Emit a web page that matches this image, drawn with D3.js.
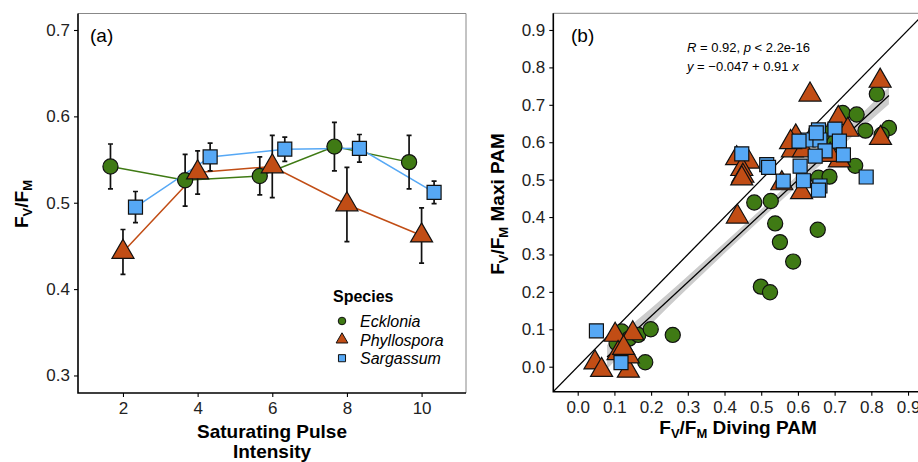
<!DOCTYPE html>
<html>
<head>
<meta charset="utf-8">
<script src="https://cdn.jsdelivr.net/npm/d3@7"></script>
<style>
body { margin: 0; background: #fff; }
svg { display: block; font-family: "Liberation Sans", Arial, sans-serif; }
</style>
</head>
<body>
<svg width="918" height="462"></svg>
<script>
// ---- data ----
var species = ["Ecklonia", "Phyllospora", "Sargassum"];
var colors = ["#3f7a14", "#c14d15", "#56a8f5"];
var pulse = [2, 4, 6, 8, 10];

// panel (a): mean and standard error per pulse intensity
var eckMean = [0.542, 0.526, 0.531, 0.565, 0.547];
var eckSe   = [0.026, 0.030, 0.022, 0.028, 0.031];
var phyMean = [0.443, 0.535, 0.542, 0.498, 0.462];
var phySe   = [0.026, 0.025, 0.036, 0.043, 0.032];
var sarMean = [0.495, 0.553, 0.562, 0.563, 0.512];
var sarSe   = [0.018, 0.016, 0.014, 0.016, 0.013];

// panel (b): diving PAM (x) vs maxi PAM (y)
var eckPts = [[0.120,0.094],[0.106,0.063],[0.140,0.075],[0.165,0.085],[0.199,0.100],[0.259,0.085],[0.184,0.012],
  [0.481,0.439],[0.526,0.443],[0.538,0.383],[0.551,0.333],[0.587,0.281],[0.499,0.214],[0.524,0.199],[0.654,0.366],
  [0.656,0.505],[0.686,0.508],[0.756,0.537],[0.722,0.678],[0.760,0.674],[0.784,0.631],[0.848,0.638],[0.828,0.620],
  [0.815,0.729],[0.650,0.630],[0.687,0.625],[0.700,0.600]];
var phyPts = [[0.047,0.011],[0.065,-0.009],[0.102,0.085],[0.150,0.089],[0.138,-0.011],[0.110,0.036],[0.138,0.027],[0.125,0.050],
  [0.435,0.401],[0.433,0.557],[0.465,0.548],[0.447,0.528],[0.450,0.510],[0.447,0.503],
  [0.633,0.727],[0.824,0.764],[0.825,0.611],[0.710,0.664],[0.736,0.633],[0.594,0.615],[0.585,0.578],[0.615,0.578],
  [0.556,0.490],[0.610,0.466],[0.713,0.551],[0.688,0.566],[0.580,0.600]];
var sarPts = [[0.051,0.096],[0.118,0.011],[0.447,0.569],[0.515,0.540],[0.520,0.533],[0.560,0.496],[0.606,0.536],
  [0.615,0.497],[0.660,0.483],[0.656,0.472],[0.786,0.507],[0.656,0.633],[0.701,0.635],[0.628,0.606],[0.660,0.606],
  [0.713,0.603],[0.674,0.577],[0.647,0.563],[0.724,0.566],[0.603,0.603],[0.650,0.625]];

// fitted line from the annotation, and its confidence band half-width
var fitIntercept = -0.047, fitSlope = 0.91;
var bandX    = [0.080, 0.200, 0.400, 0.600, 0.848];
var bandHalf = [0.032, 0.021, 0.014, 0.014, 0.023];

var ticksA = [0.3, 0.4, 0.5, 0.6, 0.7];
var ticksB = [0, 0.1, 0.2, 0.3, 0.4, 0.5, 0.6, 0.7, 0.8, 0.9];

var svg = d3.select("svg");
var shapes = [d3.symbolCircle, d3.symbolTriangle, d3.symbolSquare];
var sizes = [180, 210, 196];

function sym(i, s) {
    return d3.symbol().type(shapes[i]).size(s || sizes[i])();
}

function styleAxis(g) {
    g.select(".domain").remove();
    g.selectAll(".tick line").attr("stroke", "#000").attr("stroke-width", 1.1);
    g.selectAll(".tick text").attr("fill", "#222").style("font-size", "17px");
}

// F_V/F_M with subscripts
function fvfm(t, rest) {
    t.append("tspan").text("F");
    t.append("tspan").attr("dy", 4).style("font-size", "13px").text("V");
    t.append("tspan").attr("dy", -4).text("/F");
    t.append("tspan").attr("dy", 4).style("font-size", "13px").text("M");
    if (rest) t.append("tspan").attr("dy", -4).text(rest);
}

// =============== panel (a) ===============
var xa = d3.scaleLinear().domain([0.795, 11.19]).range([78, 466]);
var ya = d3.scaleLinear().domain([0.2797, 0.7191]).range([393, 13.5]);
var dodge = [-0.335, 0, 0.335];

var groups = [
    { i: 0, mean: eckMean, se: eckSe },
    { i: 1, mean: phyMean, se: phySe },
    { i: 2, mean: sarMean, se: sarSe }
];

var pa = svg.append("g");

pa.append("g").attr("transform", "translate(0,393)")
    .call(d3.axisBottom(xa).tickValues(pulse).tickSize(4).tickPadding(5))
    .call(styleAxis);
pa.append("g").attr("transform", "translate(78,0)")
    .call(d3.axisLeft(ya).tickValues(ticksA).tickFormat(d3.format(".1f")).tickSize(4).tickPadding(4))
    .call(styleAxis);

// frame
pa.append("path").attr("d", "M78,13.5H466V393").attr("fill", "none").attr("stroke", "#888").attr("stroke-width", 1);
pa.append("path").attr("d", "M78,13.5V393H466").attr("fill", "none").attr("stroke", "#000").attr("stroke-width", 1.6);

// connecting lines
groups.forEach(function(g) {
    var line = d3.line()
        .x(function(d, k) { return xa(pulse[k] + dodge[g.i]); })
        .y(function(d) { return ya(d); });
    pa.append("path").datum(g.mean).attr("d", line)
        .attr("fill", "none").attr("stroke", colors[g.i]).attr("stroke-width", 1.5);
});

// error bars
groups.forEach(function(g) {
    var eb = pa.append("g").selectAll("g").data(g.mean).enter().append("g")
        .attr("stroke", "#111").attr("stroke-width", 1.7).attr("fill", "none");
    eb.append("path").attr("d", function(d, k) {
        var x = xa(pulse[k] + dodge[g.i]), y0 = ya(d - g.se[k]), y1 = ya(d + g.se[k]);
        return "M" + x + "," + y0 + "V" + y1 + "M" + (x - 2.5) + "," + y0 + "H" + (x + 2.5) +
            "M" + (x - 2.5) + "," + y1 + "H" + (x + 2.5);
    });
});

// points
groups.forEach(function(g) {
    pa.append("g").selectAll("path").data(g.mean).enter().append("path")
        .attr("d", sym(g.i))
        .attr("transform", function(d, k) { return "translate(" + xa(pulse[k] + dodge[g.i]) + "," + ya(d) + ")"; })
        .attr("fill", colors[g.i]).attr("stroke", "#111").attr("stroke-width", 1.2);
});

pa.append("text").attr("x", 90).attr("y", 42).style("font-size", "19px").text("(a)");

// legend
var lg = pa.append("g");
lg.append("text").attr("x", 333).attr("y", 302).style("font-size", "16px").style("font-weight", "bold").text("Species");
lg.selectAll("g.key").data(species).enter().append("g").attr("class", "key")
    .attr("transform", function(d, i) { return "translate(342," + (321 + i * 18.6) + ")"; })
    .each(function(d, i) {
        var k = d3.select(this);
        k.append("path").attr("d", sym(i, [45, 60, 50][i]))
            .attr("fill", colors[i]).attr("stroke", "#111").attr("stroke-width", 1);
        k.append("text").attr("x", 18).attr("y", 6).style("font-size", "16px").style("font-style", "italic").text(d);
    });

// axis titles
var tA = pa.append("text").attr("x", 272).attr("y", 438).attr("text-anchor", "middle")
    .style("font-size", "19px").style("font-weight", "bold");
tA.append("tspan").attr("x", 272).text("Saturating Pulse");
tA.append("tspan").attr("x", 272).attr("dy", 20).text("Intensity");

var yA = pa.append("text").attr("transform", "translate(28,204) rotate(-90)").attr("text-anchor", "middle")
    .style("font-size", "19px").style("font-weight", "bold");
fvfm(yA);

// =============== panel (b) ===============
var xb = d3.scaleLinear().domain([-0.0665, 0.9446]).range([553.3, 924.4]);
var yb = d3.scaleLinear().domain([-0.0668, 0.9446]).range([391.7, 13.3]);

var pb = svg.append("g");
pb.append("clipPath").attr("id", "clipb").append("rect")
    .attr("x", 553.3).attr("y", 13.3).attr("width", 371.1).attr("height", 378.4);

pb.append("g").attr("transform", "translate(0,391.7)")
    .call(d3.axisBottom(xb).tickValues(ticksB).tickFormat(d3.format(".1f")).tickSize(4).tickPadding(5))
    .call(styleAxis);
pb.append("g").attr("transform", "translate(553.3,0)")
    .call(d3.axisLeft(yb).tickValues(ticksB).tickFormat(d3.format(".1f")).tickSize(4).tickPadding(4))
    .call(styleAxis);

pb.append("path").attr("d", "M553.3,13.3H924.4V391.7").attr("fill", "none").attr("stroke", "#888").attr("stroke-width", 1);

var plot = pb.append("g").attr("clip-path", "url(#clipb)");

// 1:1 line
plot.append("line")
    .attr("x1", xb(-0.0665)).attr("y1", yb(-0.0665)).attr("x2", xb(0.9446)).attr("y2", yb(0.9446))
    .attr("stroke", "#000").attr("stroke-width", 1.3);

// confidence band
var bandArea = d3.area()
    .x(function(d) { return xb(d); })
    .y0(function(d, k) { return yb(fitIntercept + fitSlope * d - bandHalf[k]); })
    .y1(function(d, k) { return yb(fitIntercept + fitSlope * d + bandHalf[k]); })
    .curve(d3.curveMonotoneX);
plot.append("path").datum(bandX).attr("d", bandArea).attr("fill", "#cccccc");

plot.append("line")
    .attr("x1", xb(bandX[0])).attr("y1", yb(fitIntercept + fitSlope * bandX[0]))
    .attr("x2", xb(bandX[bandX.length - 1])).attr("y2", yb(fitIntercept + fitSlope * bandX[bandX.length - 1]))
    .attr("stroke", "#000").attr("stroke-width", 1.3);

[eckPts, phyPts, sarPts].forEach(function(pts, i) {
    plot.append("g").selectAll("path").data(pts).enter().append("path")
        .attr("d", sym(i))
        .attr("transform", function(d) { return "translate(" + xb(d[0]) + "," + yb(d[1]) + ")"; })
        .attr("fill", colors[i]).attr("stroke", "#111").attr("stroke-width", 1.2);
});

pb.append("path").attr("d", "M553.3,13.3V391.7H924.4").attr("fill", "none").attr("stroke", "#000").attr("stroke-width", 1.6);

pb.append("text").attr("x", 571).attr("y", 42).style("font-size", "19px").text("(b)");

// annotation
var an1 = pb.append("text").attr("x", 687).attr("y", 52).style("font-size", "13px");
an1.append("tspan").style("font-style", "italic").text("R");
an1.append("tspan").text(" = 0.92, ");
an1.append("tspan").style("font-style", "italic").text("p");
an1.append("tspan").text(" < 2.2e-16");
var an2 = pb.append("text").attr("x", 687).attr("y", 71).style("font-size", "13px");
an2.append("tspan").style("font-style", "italic").text("y");
an2.append("tspan").text(" = \u22120.047 + 0.91 ");
an2.append("tspan").style("font-style", "italic").text("x");

var xB = pb.append("text").attr("x", 738).attr("y", 434).attr("text-anchor", "middle")
    .style("font-size", "19px").style("font-weight", "bold");
fvfm(xB, " Diving PAM");

var yB = pb.append("text").attr("transform", "translate(504,204) rotate(-90)").attr("text-anchor", "middle")
    .style("font-size", "19px").style("font-weight", "bold");
fvfm(yB, " Maxi PAM");
</script>
</body>
</html>
